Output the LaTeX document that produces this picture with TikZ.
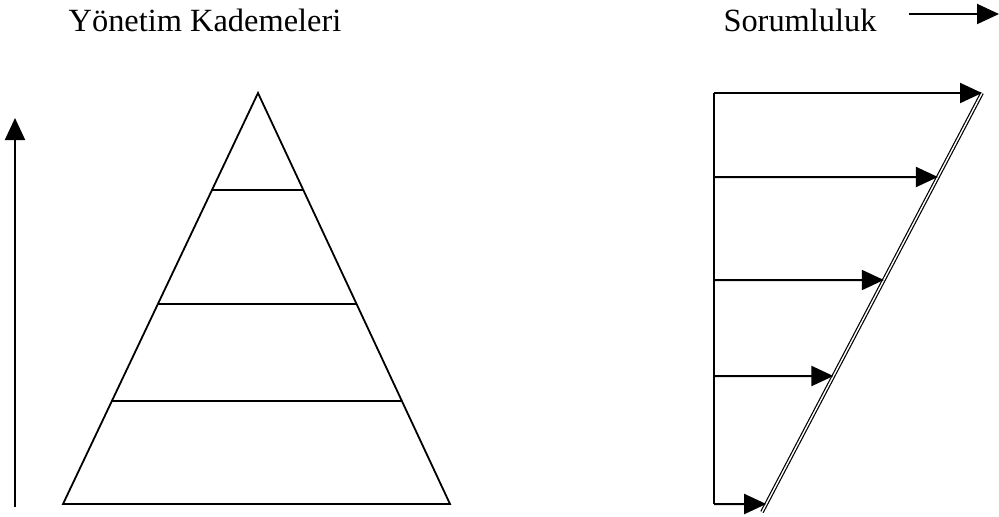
\documentclass[tikz,border=0pt]{standalone}
\usepackage{fontspec}
\setmainfont{Liberation Serif}
\usetikzlibrary{arrows.meta, calc}
\begin{document}
\begin{tikzpicture}[x=0.5pt, y=-0.5pt,
    flecha/.style={-{Triangle[length=11pt, width=10pt]}, line width=1pt},
    linea/.style={line width=0.9pt},
    doble/.style={double, double distance=0.7pt, line width=0.6pt},
    titulo/.style={font=\fontsize{16.2}{20}\selectfont, inner sep=0pt}]
    \useasboundingbox (0,0) rectangle (999,516);

    % Titulos
    \node[titulo] (kademe) at (205,20) {Yönetim Kademeleri};
    \node[titulo] (sorum) at (800,20) {Sorumluluk};
    \coordinate (sorumfin) at (999,14);
    \draw[flecha] ([xshift=16pt]sorum.east |- sorumfin) -- (sorumfin);

    % Yetki oku (sol)
    \coordinate (okalt) at (15,507);
    \coordinate (okust) at (15,118);
    \draw[flecha] (okalt) -- (okust);

    % Piramit
    \coordinate (tepe) at (258,93);
    \coordinate (solalt) at (63,504);
    \coordinate (sagalt) at (450,504);
    \draw[linea, line join=miter] (solalt) -- (tepe) -- (sagalt) -- cycle;
    \foreach \y in {190,304,401} {
        \draw[linea] ($(tepe)!{(\y-93)/411}!(solalt)$) -- ($(tepe)!{(\y-93)/411}!(sagalt)$);
    }

    % Sorumluluk kademeleri (sag)
    \coordinate (dikust) at (714,93);
    \coordinate (dikalt) at (714,504);
    \coordinate (capust) at (982,93);
    \coordinate (capalt) at (762,512);
    \draw[linea] (dikust) -- (dikalt);
    \draw[doble] (capust) -- (capalt);
    \foreach \y in {93,177,280,376,504} {
        \draw[flecha] (dikust |- 0,\y) -- ($(capust)!{(\y-93)/419}!(capalt)$);
    }
\end{tikzpicture}
\end{document}
